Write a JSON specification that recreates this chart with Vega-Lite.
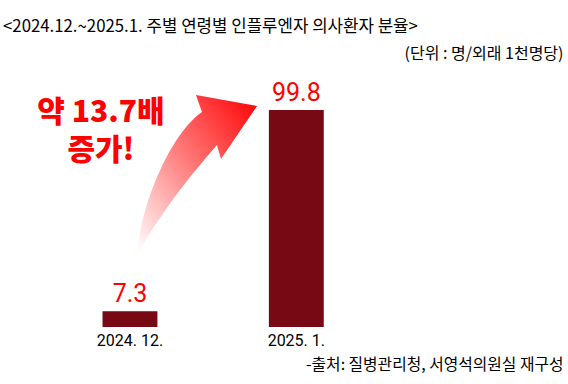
{
  "$schema": "https://vega.github.io/schema/vega-lite/v6.json",
  "autosize": {"type": "none"},
  "padding": {"left": 0, "top": 40, "right": 0, "bottom": 57},
  "width": 568,
  "height": 287,
  "background": "white",
  "config": {"view": {"stroke": null}},
  "title": {
    "text": "<2024.12.~2025.1. 주별 연령별 인플루엔자 의사환자 분율>",
    "anchor": "start",
    "frame": "group",
    "font": "Noto Sans CJK KR",
    "fontSize": 16.8,
    "fontWeight": "normal",
    "color": "#000000",
    "baseline": "alphabetic",
    "offset": -9,
    "dx": 3
  },
  "data": {
    "values": [
      {"period": "2024. 12.", "value": 7.3},
      {"period": "2025. 1.", "value": 99.8}
    ]
  },
  "layer": [
    {
      "mark": {"type": "bar", "color": "#760913"},
      "encoding": {
        "x": {
          "field": "period",
          "type": "nominal",
          "sort": ["2024. 12.", "2025. 1."],
          "scale": {"range": [46.3, 380], "paddingInner": 0.67, "paddingOuter": 0.338},
          "axis": {
            "labelAngle": 0,
            "labelFont": "Roboto",
            "labelFontSize": 16,
            "labelColor": "#000000",
            "labelPadding": 5,
            "ticks": false,
            "domain": false,
            "grid": false,
            "title": "-출처: 질병관리청, 서영석의원실 재구성",
            "titleFont": "Noto Sans CJK KR",
            "titleFontSize": 15.8,
            "titleFontWeight": "normal",
            "titleColor": "#000000",
            "titleAlign": "right",
            "titleBaseline": "alphabetic",
            "titleX": 563,
            "titleY": 42
          }
        },
        "y": {
          "field": "value",
          "type": "quantitative",
          "scale": {"domain": [0, 132], "nice": false},
          "axis": {
            "orient": "right",
            "labels": false,
            "ticks": false,
            "domain": false,
            "grid": false,
            "title": "(단위 : 명/외래 1천명당)",
            "titleFont": "Noto Sans CJK KR",
            "titleFontSize": 16,
            "titleFontWeight": "normal",
            "titleColor": "#000000",
            "titleAngle": 0,
            "titleAlign": "right",
            "titleBaseline": "alphabetic",
            "titleX": -5,
            "titleY": 18
          }
        }
      }
    },
    {
      "mark": {
        "type": "text",
        "font": "Roboto",
        "fontSize": 25,
        "color": "#ff0000",
        "baseline": "alphabetic",
        "align": "center",
        "dy": -9
      },
      "encoding": {
        "x": {"field": "period", "type": "nominal", "sort": ["2024. 12.", "2025. 1."]},
        "y": {"field": "value", "type": "quantitative"},
        "text": {"field": "value", "type": "quantitative", "format": ".1f"}
      }
    },
    {
      "data": {"values": [{"note": "arrow"}]},
      "mark": {
        "type": "point",
        "filled": true,
        "shape": "M -0.744 0.975 C -0.72 0.4 -0.35 -0.5 0.056 -0.7875 L -0.019 -1 L 0.744 -0.8625 L 0.294 -0.2 L 0.244 -0.375 C 0.05 -0.15 -0.35 0.3 -0.744 0.975 Z",
        "size": 25600,
        "opacity": 1,
        "strokeWidth": 0,
        "xOffset": 67.5,
        "fill": {
          "gradient": "linear",
          "x1": 0, "y1": 1, "x2": 1, "y2": 0,
          "stops": [
            {"offset": 0, "color": "#ffffff"},
            {"offset": 0.5, "color": "#ff7a7a"},
            {"offset": 1, "color": "#ff0000"}
          ]
        }
      },
      "encoding": {
        "x": {"datum": "2024. 12.", "type": "nominal"},
        "y": {"datum": 69.9, "type": "quantitative"}
      }
    },
    {
      "data": {"values": [{"note": "약 13.7배\n증가!"}]},
      "mark": {
        "type": "text",
        "font": "Noto Sans CJK KR",
        "fontWeight": 900,
        "fontSize": 30,
        "color": "#ff0000",
        "align": "center",
        "baseline": "middle",
        "lineBreak": "\n",
        "lineHeight": 38,
        "dx": -29
      },
      "encoding": {
        "x": {"datum": "2024. 12.", "type": "nominal"},
        "y": {"datum": 98.5, "type": "quantitative"},
        "text": {"field": "note", "type": "nominal"}
      }
    }
  ]
}
